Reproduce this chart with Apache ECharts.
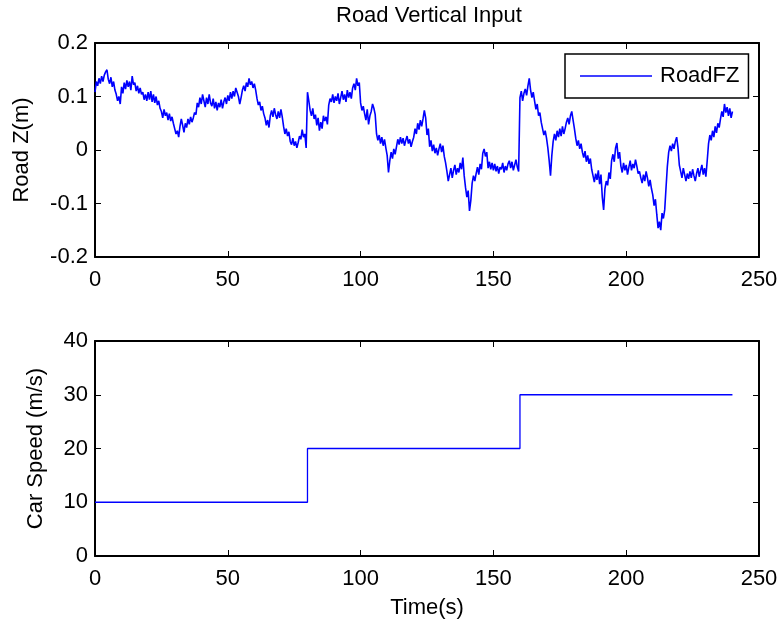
<html>
<head>
<meta charset="utf-8">
<title>Road Vertical Input</title>
<script src="https://cdn.jsdelivr.net/npm/echarts@6/dist/echarts.min.js"></script>
</head>
<body style="margin:0">
<div id="main" style="width:783px;height:628px;"></div>
<script type="text/javascript">
// road profile, sampled every 0.5 s (one row = 10 s)
var roadStep = 0.5;
var roadZ = [
  0.108, 0.128, 0.120, 0.134, 0.124, 0.138, 0.128, 0.140, 0.146, 0.150, 0.132, 0.124, 0.136, 0.118, 0.128, 0.112, 0.104, 0.092, 0.100, 0.086,
  0.118, 0.106, 0.126, 0.114, 0.130, 0.118, 0.128, 0.112, 0.138, 0.122, 0.126, 0.110, 0.120, 0.106, 0.116, 0.104, 0.108, 0.094, 0.104, 0.092,
  0.108, 0.094, 0.110, 0.090, 0.104, 0.088, 0.100, 0.084, 0.092, 0.078, 0.072, 0.060, 0.076, 0.064, 0.070, 0.056, 0.068, 0.054, 0.062, 0.050,
  0.040, 0.030, 0.036, 0.024, 0.044, 0.058, 0.046, 0.033, 0.050, 0.042, 0.058, 0.048, 0.062, 0.052, 0.060, 0.070, 0.066, 0.088, 0.080, 0.098,
  0.086, 0.104, 0.092, 0.080, 0.098, 0.086, 0.104, 0.088, 0.082, 0.096, 0.078, 0.090, 0.074, 0.088, 0.080, 0.094, 0.078, 0.090, 0.098, 0.086,
  0.102, 0.092, 0.108, 0.096, 0.110, 0.100, 0.116, 0.108, 0.100, 0.086, 0.098, 0.112, 0.120, 0.110, 0.126, 0.118, 0.134, 0.122, 0.128, 0.116,
  0.124, 0.112, 0.096, 0.084, 0.090, 0.074, 0.082, 0.068, 0.060, 0.046, 0.056, 0.042, 0.064, 0.074, 0.062, 0.078, 0.066, 0.058, 0.072, 0.060,
  0.076, 0.062, 0.044, 0.030, 0.040, 0.026, 0.034, 0.016, 0.010, 0.022, 0.008, 0.016, 0.004, 0.014, 0.026, 0.020, 0.038, 0.024, 0.030, 0.004,
  0.108, 0.092, 0.074, 0.064, 0.078, 0.058, 0.066, 0.046, 0.060, 0.036, 0.052, 0.040, 0.064, 0.054, 0.062, 0.048, 0.084, 0.096, 0.090, 0.104,
  0.088, 0.100, 0.092, 0.106, 0.086, 0.098, 0.110, 0.094, 0.104, 0.090, 0.112, 0.098, 0.108, 0.096, 0.116, 0.124, 0.112, 0.134, 0.120, 0.126,
  0.088, 0.074, 0.082, 0.068, 0.056, 0.076, 0.048, 0.064, 0.072, 0.086, 0.078, 0.066, 0.030, 0.018, 0.028, 0.012, 0.024, 0.008, 0.020, 0.004,
  -0.010, -0.042, -0.020, -0.004, -0.016, 0.002, -0.008, 0.006, 0.020, 0.010, 0.024, 0.012, 0.022, 0.008, 0.018, 0.026, 0.012, 0.020, 0.006, 0.016,
  0.024, 0.040, 0.030, 0.050, 0.038, 0.056, 0.044, 0.058, 0.074, 0.060, 0.028, 0.040, 0.006, 0.018, -0.002, 0.010, -0.006, 0.004, -0.010, 0.002,
  0.012, -0.004, 0.008, -0.012, -0.024, -0.040, -0.058, -0.046, -0.034, -0.052, -0.038, -0.028, -0.046, -0.034, -0.042, -0.024, -0.036, -0.014, -0.048, -0.070,
  -0.088, -0.076, -0.114, -0.094, -0.062, -0.048, -0.058, -0.044, -0.032, -0.046, -0.026, -0.036, -0.006, 0.002, -0.012, -0.004, -0.034, -0.022, -0.036, -0.024,
  -0.038, -0.026, -0.040, -0.030, -0.044, -0.032, -0.036, -0.024, -0.042, -0.030, -0.038, -0.026, -0.020, -0.034, -0.022, -0.038, -0.028, -0.018, -0.032, -0.040,
  0.098, 0.110, 0.092, 0.106, 0.114, 0.102, 0.120, 0.134, 0.112, 0.098, 0.108, 0.092, 0.076, 0.086, 0.064, 0.070, 0.052, 0.040, 0.028, 0.036,
  0.022, 0.004, -0.020, -0.048, -0.010, 0.016, 0.030, 0.018, 0.036, 0.024, 0.040, 0.026, 0.044, 0.030, 0.040, 0.052, 0.060, 0.048, 0.064, 0.072,
  0.056, 0.040, 0.022, 0.008, 0.018, 0.002, 0.012, -0.004, -0.014, -0.002, -0.022, -0.010, -0.026, -0.016, -0.036, -0.048, -0.060, -0.044, -0.056, -0.038,
  -0.064, -0.046, -0.088, -0.112, -0.072, -0.058, -0.066, -0.042, -0.054, -0.020, -0.008, -0.022, 0.004, 0.013, -0.016, -0.004, -0.030, -0.042, -0.024, -0.038,
  -0.028, -0.046, -0.032, -0.020, -0.038, -0.026, -0.034, -0.018, -0.030, -0.044, -0.040, -0.052, -0.062, -0.046, -0.058, -0.040, -0.052, -0.068, -0.056, -0.072,
  -0.084, -0.104, -0.092, -0.120, -0.146, -0.134, -0.150, -0.118, -0.128, -0.112, -0.070, -0.030, -0.004, 0.008, -0.002, 0.012, 0.002, 0.016, 0.024, 0.004,
  -0.028, -0.040, -0.052, -0.034, -0.046, -0.058, -0.044, -0.054, -0.040, -0.052, -0.036, -0.048, -0.058, -0.044, -0.034, -0.050, -0.038, -0.028, -0.046, -0.034,
  -0.050, -0.020, 0.012, 0.028, 0.018, 0.036, 0.024, 0.044, 0.032, 0.050, 0.042, 0.058, 0.072, 0.062, 0.086, 0.070, 0.080, 0.064, 0.078, 0.060,
  0.072
];

// car speed steps
var speedTime = [0, 80, 80, 160, 160, 240];
var speedVal  = [10, 10, 20, 20, 30, 30];

var xTicks = [0, 250, 50];       // min, max, interval
var zTicks = [-0.2, 0.2, 0.1];
var vTicks = [0, 40, 10];

var roadData = roadZ.map(function (v, i) { return [i * roadStep, v]; });
var speedData = speedTime.map(function (t, i) { return [t, speedVal[i]]; });

var font = "'Liberation Sans', Arial, sans-serif";
var black = '#000';
var blue = '#0000ff';

function xAx(grid, pos, show, name) {
  return {
    type: 'value', gridIndex: grid, position: pos,
    min: xTicks[0], max: xTicks[1], interval: xTicks[2],
    name: name || '', nameLocation: 'middle', nameGap: 41,
    nameTextStyle: { color: black, fontSize: 22, fontFamily: font },
    axisLine: { show: true, onZero: false, lineStyle: { color: black, width: 2 } },
    axisTick: { show: true, inside: true, length: 6, lineStyle: { color: black, width: 1 } },
    axisLabel: { show: show, color: black, fontSize: 22, fontFamily: font, margin: 12 },
    splitLine: { show: false }
  };
}
function yAx(grid, pos, show, ticks, name, gap) {
  return {
    type: 'value', gridIndex: grid, position: pos,
    min: ticks[0], max: ticks[1], interval: ticks[2],
    name: name || '', nameLocation: 'middle', nameGap: gap || 0,
    nameTextStyle: { color: black, fontSize: 22, fontFamily: font },
    axisLine: { show: true, onZero: false, lineStyle: { color: black, width: 2 } },
    axisTick: { show: true, inside: true, length: 6, lineStyle: { color: black, width: 1 } },
    axisLabel: { show: show, color: black, fontSize: 22, fontFamily: font, margin: 7 },
    splitLine: { show: false }
  };
}

var myChart = echarts.init(document.getElementById('main'));
var option = {
  animation: false,
  backgroundColor: '#fff',
  title: {
    text: 'Road Vertical Input', left: 331, top: 0,
    textStyle: { color: black, fontSize: 22, fontWeight: 'normal', fontFamily: font }
  },
  legend: {
    data: [{ name: 'RoadFZ', icon: 'rect' }], left: 565, top: 54,
    padding: [11, 9, 11, 15],
    borderColor: black, borderWidth: 1.5,
    itemWidth: 72, itemHeight: 1.5,
    textStyle: { color: black, fontSize: 22, fontFamily: font, padding: [0, 0, 0, 3] }
  },
  grid: [
    { left: 95, top: 43, width: 664, height: 214 },
    { left: 95, top: 341, width: 664, height: 215 }
  ],
  xAxis: [
    xAx(0, 'bottom', true),
    xAx(0, 'top', false),
    xAx(1, 'bottom', true, 'Time(s)'),
    xAx(1, 'top', false)
  ],
  yAxis: [
    yAx(0, 'left', true, zTicks, 'Road Z(m)', 62),
    yAx(0, 'right', false, zTicks),
    yAx(1, 'left', true, vTicks, 'Car Speed (m/s)', 48),
    yAx(1, 'right', false, vTicks)
  ],
  series: [
    {
      name: 'RoadFZ', type: 'line', xAxisIndex: 0, yAxisIndex: 0,
      symbol: 'none', data: roadData,
      lineStyle: { color: blue, width: 1.6 }, itemStyle: { color: blue }
    },
    {
      name: 'Speed', type: 'line', xAxisIndex: 2, yAxisIndex: 2,
      symbol: 'none', data: speedData,
      lineStyle: { color: blue, width: 1.3 }, itemStyle: { color: blue }
    }
  ]
};
myChart.setOption(option);
</script>
</body>
</html>
